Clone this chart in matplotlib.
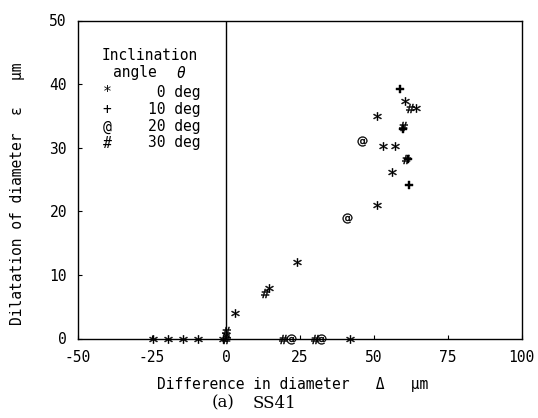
import numpy as np
import matplotlib
matplotlib.use('Agg')
import matplotlib.pyplot as plt

# data (difference in diameter, dilatation), per inclination angle
deg0_x = [-24.5, -19.5, -14.5, -9.5, -1.0, 0.0, 3.0, 14.5, 24.0, 42.0, 51.0, 51.0, 53.0, 56.0, 57.0, 60.7, 64.1]
deg0_y = [0.0, 0.0, 0.0, 0.0, 0.0, 0.5, 4.0, 8.0, 12.0, 0.0, 21.0, 35.0, 30.2, 26.2, 30.2, 37.3, 36.3]
deg10_x = [59.0, 60.0, 61.5, 61.8]
deg10_y = [39.2, 33.0, 28.2, 24.1]
deg20_x = [22.0, 32.0, 41.0, 46.0]
deg20_y = [0.0, 0.0, 19.0, 31.0]
deg30_x = [0.0, 0.0, 13.3, 19.2, 30.2, 60.0, 60.8, 62.2]
deg30_y = [0.0, 1.2, 7.1, 0.0, 0.0, 33.4, 28.2, 36.3]

angles = [0, 10, 20, 30]
symbols = ['*', '+', '@', '#']
marker_tex = ['$*$', '$+$', '$@$', '$\\#$']
marker_size = [6, 6, 7, 6.5]

xticks = [-50, -25, 0, 25, 50, 75, 100]
yticks = [0, 10, 20, 30, 40, 50]

W, H = 538, 418
mono = 'DejaVu Sans Mono'
plt.rcParams['font.family'] = mono
plt.rcParams['axes.unicode_minus'] = False


def fx(px):
    return px / W


def fy(py):
    return 1 - py / H


fig = plt.figure(figsize=(W / 100, H / 100), dpi=100)
fig.set_facecolor('white')
ax = fig.add_axes([fx(78), fy(338.5), fx(521.7) - fx(78), fy(20.5) - fy(338.5)])

series = [(deg0_x, deg0_y), (deg10_x, deg10_y), (deg20_x, deg20_y), (deg30_x, deg30_y)]
for (xs, ys), m, ms in zip(series, marker_tex, marker_size):
    ax.plot(xs, ys, linestyle='none', marker=m, markersize=ms, color='black',
            markeredgewidth=0.3, clip_on=False, zorder=5)

ax.axvline(0, color='black', linewidth=1.0)
ax.set_xlim(-50, 100)
ax.set_ylim(0, 50)
ax.set_xticks(xticks)
ax.set_yticks(yticks)
ax.tick_params(direction='in', length=3, width=0.8, labelsize=10.5)
ax.tick_params(axis='x', pad=8)
ax.tick_params(axis='y', pad=8)
for s in ax.spines.values():
    s.set_linewidth(1.0)

# axis labels
fig.text(fx(157), fy(385), 'Difference in diameter   \u0394   \u03bcm',
         ha='left', va='center', fontsize=10.5)
fig.text(fx(18), fy(325), 'Dilatation of diameter  \u03b5   \u03bcm',
         ha='center', va='bottom', rotation=90, fontsize=10.5)

# caption
fig.text(fx(212), fy(403), '(a)', ha='left', va='center', fontsize=12, family='DejaVu Serif')
fig.text(fx(253), fy(403), 'SS41', ha='left', va='center', fontsize=12, family='DejaVu Serif')

# legend drawn as text
fig.text(fx(101.7), fy(55), 'Inclination', ha='left', va='center', fontsize=10.5)
fig.text(fx(113), fy(73), 'angle', ha='left', va='center', fontsize=10.5)
fig.text(fx(181), fy(73), '\u03b8', ha='center', va='center', fontsize=10.5, style='italic')
rows = [93, 110, 127, 143]
for a, sym, r in zip(angles, symbols, rows):
    fig.text(fx(107), fy(r), sym, ha='center', va='center', fontsize=10.5)
    fig.text(fx(148), fy(r), '{:>2d} deg'.format(a), ha='left', va='center', fontsize=10.5)

plt.savefig('out.png', dpi=100)
